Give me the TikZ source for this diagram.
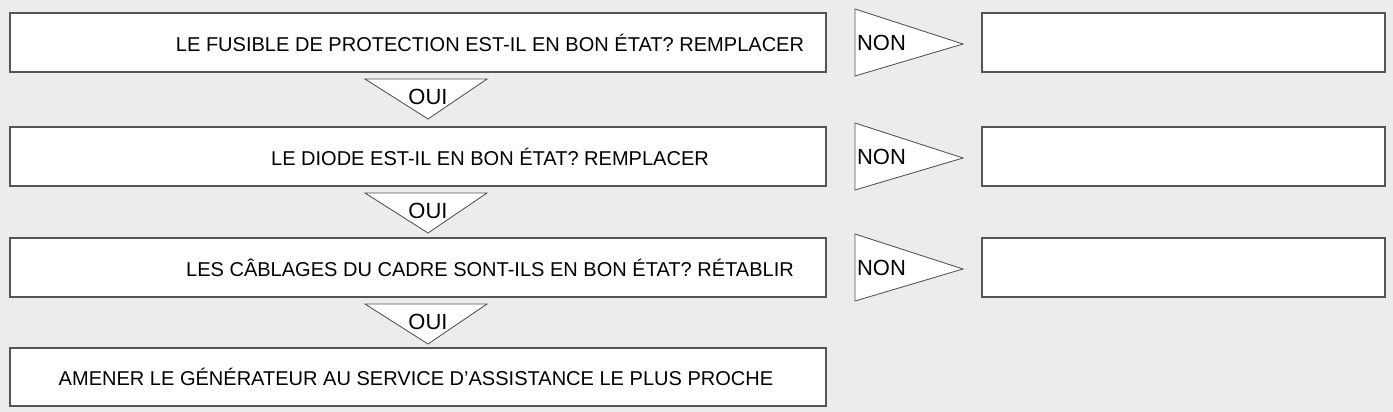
\documentclass[tikz,border=0pt]{standalone}
\usepackage{fontspec}
\setmainfont{Liberation Sans}
\usetikzlibrary{positioning}
\definecolor{bggray}{HTML}{ECECEC}
\definecolor{edgegray}{HTML}{555555}
\begin{document}
\begin{tikzpicture}
    [x=0.02cm,y=-0.02cm, font=\fontsize{11.4}{13}\selectfont,
     stepbox/.style={draw=edgegray,fill=white,line width=0.6pt},
     flag/.style={draw=edgegray,fill=white,line width=0.5pt,line join=miter}]
%background
\fill[bggray] (0,0) rectangle (1393,412);
\useasboundingbox (0,0) rectangle (1393,412);
%the three question rows
\foreach \y/\txt/\tx in {13/{LE FUSIBLE DE PROTECTION EST-IL EN BON ÉTAT? REMPLACER}/490,
                        127/{LE DIODE EST-IL EN BON ÉTAT? REMPLACER}/490,
                        238/{LES CÂBLAGES DU CADRE SONT-ILS EN BON ÉTAT? RÉTABLIR}/490}{
  \draw[stepbox] (10,\y) rectangle (826,\y+59);
  \node at (\tx,\y+30) {\txt};
  %NON flag and empty answer box
  \draw[flag] (855,\y-4) -- (963,\y+31) -- (855,\y+63) -- cycle;
  \node[anchor=west,inner sep=1pt] at (855,\y+30) {\fontsize{12.5}{14}\selectfont NON};
  \draw[stepbox] (982,\y) rectangle (1385,\y+59);
  %OUI flag below
  \draw[flag] (365,\y+66) -- (487,\y+66) -- (428,\y+106) -- cycle;
  \node at (428,\y+84) {\fontsize{12.5}{14}\selectfont OUI};
}
%final row
\draw[stepbox] (10,348) rectangle (826,406);
\node at (416,377) {AMENER LE GÉNÉRATEUR AU SERVICE D’ASSISTANCE LE PLUS PROCHE};
\end{tikzpicture}
\end{document}
